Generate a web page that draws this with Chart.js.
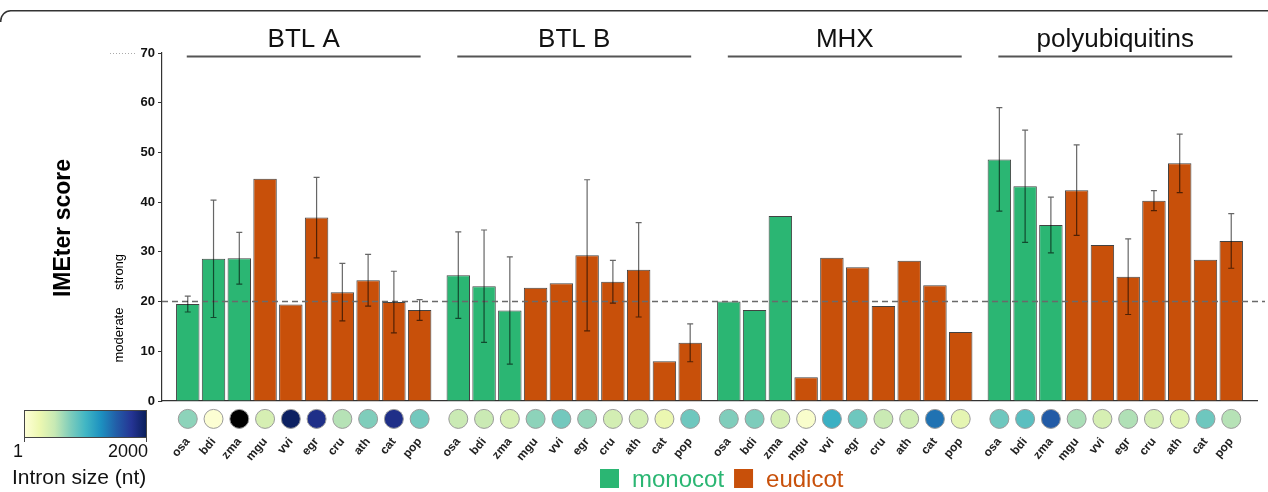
<!DOCTYPE html>
<html>
<head>
<meta charset="utf-8">
<script src="https://cdn.jsdelivr.net/npm/chart.js@4.4.1/dist/chart.umd.min.js"></script>
<style>
  html, body { margin: 0; padding: 0; background: #fff; }
  #wrap { width: 1268px; height: 492px; position: relative; }
</style>
</head>
<body>
<div id="wrap"><canvas id="chart" width="1268" height="492"></canvas></div>
<script>
// --- data ---
const genes = ['BTL A', 'BTL B', 'MHX', 'polyubiquitins'];
const species = ['osa', 'bdi', 'zma', 'mgu', 'vvi', 'egr', 'cru', 'ath', 'cat', 'pop'];
const clades = ['monocot', 'monocot', 'monocot', 'eudicot', 'eudicot', 'eudicot', 'eudicot', 'eudicot', 'eudicot', 'eudicot'];

const btlA = [19.5, 28.6, 28.7, 44.7, 19.4, 36.9, 21.9, 24.3, 19.9, 18.3];
const btlB = [25.3, 23.1, 18.2, 22.8, 23.7, 29.3, 24.0, 26.4, 8.0, 11.7];
const mhx = [20.0, 18.3, 37.2, 4.8, 28.8, 26.9, 19.1, 28.2, 23.3, 13.9];
const polyub = [48.6, 43.2, 35.4, 42.4, 31.4, 25.0, 40.3, 47.8, 28.4, 32.2];

const btlAErr = [1.6, 11.8, 5.2, null, null, 8.1, 5.8, 5.2, 6.2, 2.1];
const btlBErr = [8.7, 11.3, 10.8, null, null, 15.2, 4.3, 9.5, null, 3.8];
const mhxErr = [null, null, null, null, null, null, null, null, null, null];
const polyubErr = [10.4, 11.3, 5.6, 9.1, null, 7.6, 2.0, 5.9, null, 5.5];

// intron size (nt), estimated from the circle colours
const btlAIntron = [700, 40, 2600, 400, 1960, 1800, 560, 750, 1800, 800];
const btlBIntron = [480, 480, 400, 700, 800, 680, 420, 420, 260, 820];
const mhxIntron = [750, 760, 400, 80, 1040, 820, 480, 440, 1400, 300];
const polyubIntron = [820, 900, 1520, 600, 400, 580, 400, 340, 820, 560];

const yTicks = [0, 10, 20, 30, 40, 50, 60, 70];
const threshold = 20;
const intronRange = [1, 2000];

// --- styling ---
const FONT = '"Liberation Sans", Arial, Helvetica, sans-serif';
const cladeColors = { monocot: '#2bb673', eudicot: '#c8500a' };
const YLGNBU = ['#ffffd9', '#edf8b1', '#c7e9b4', '#7fcdbb', '#41b6c4', '#1d91c0', '#225ea8', '#253494', '#081d58'];
const GROUP_STEP = 10.5;
const CIRCLE_ROW = -3.6;

const scores = [btlA, btlB, mhx, polyub].flat();
const errors = [btlAErr, btlBErr, mhxErr, polyubErr].flat();
const introns = [btlAIntron, btlBIntron, mhxIntron, polyubIntron].flat();
const positions = genes.flatMap((g, gi) => species.map((s, si) => gi * GROUP_STEP + si));
const barColors = genes.flatMap(() => clades.map(c => cladeColors[c]));

function hexRgb(h) {
    return [1, 3, 5].map(i => parseInt(h.slice(i, i + 2), 16));
}

function intronColor(nt) {
    if (nt > intronRange[1]) return '#000000';
    const t = Math.max(0, nt) / intronRange[1] * (YLGNBU.length - 1);
    const i = Math.min(Math.floor(t), YLGNBU.length - 2);
    const f = t - i;
    const a = hexRgb(YLGNBU[i]);
    const b = hexRgb(YLGNBU[i + 1]);
    const c = a.map((v, k) => Math.round(v + (b[k] - v) * f));
    return `rgb(${c[0]},${c[1]},${c[2]})`;
}

const decorations = {
    id: 'decorations',
    afterDatasetsDraw(chart) {
        const { ctx, chartArea, scales: { x, y } } = chart;
        ctx.save();

        // threshold line
        ctx.strokeStyle = '#6a6a6a';
        ctx.lineWidth = 1.5;
        ctx.setLineDash([6, 4]);
        ctx.beginPath();
        ctx.moveTo(chartArea.left, y.getPixelForValue(threshold));
        ctx.lineTo(chart.width - 3, y.getPixelForValue(threshold));
        ctx.stroke();
        ctx.setLineDash([]);

        // error bars
        ctx.strokeStyle = 'rgba(0,0,0,0.6)';
        ctx.lineWidth = 1.2;
        errors.forEach((e, k) => {
            if (e == null) return;
            const px = x.getPixelForValue(positions[k]);
            const top = y.getPixelForValue(scores[k] + e);
            const bottom = y.getPixelForValue(scores[k] - e);
            ctx.beginPath();
            ctx.moveTo(px, top);
            ctx.lineTo(px, bottom);
            ctx.moveTo(px - 3, top);
            ctx.lineTo(px + 3, top);
            ctx.moveTo(px - 3, bottom);
            ctx.lineTo(px + 3, bottom);
            ctx.stroke();
        });

        // intron circles sit below the plot area, so the point elements are drawn here
        const whole = { left: 0, top: 0, right: chart.width, bottom: chart.height };
        chart.getDatasetMeta(1).data.forEach(pt => pt.draw(ctx, whole));
        ctx.restore();
    },
    afterDraw(chart) {
        const { ctx, scales: { x, y } } = chart;
        ctx.save();

        // frame corner at the top
        ctx.strokeStyle = '#333';
        ctx.lineWidth = 1.5;
        ctx.beginPath();
        ctx.moveTo(0.75, 22);
        ctx.arcTo(0.75, 10.75, 12, 10.75, 10);
        ctx.lineTo(chart.width, 10.75);
        ctx.stroke();

        // gene titles with underline
        genes.forEach((g, gi) => {
            const x0 = x.getPixelForValue(positions[gi * species.length]);
            const x1 = x.getPixelForValue(positions[gi * species.length + species.length - 1]);
            ctx.fillStyle = '#111';
            ctx.font = `26px ${FONT}`;
            ctx.textAlign = 'center';
            ctx.textBaseline = 'alphabetic';
            ctx.fillText(g, (x0 + x1) / 2, 47);
            ctx.strokeStyle = '#555';
            ctx.lineWidth = 2;
            ctx.beginPath();
            ctx.moveTo(x0 - 1, 56.5);
            ctx.lineTo(x1 + 1, 56.5);
            ctx.stroke();
        });

        // y title and threshold words
        ctx.fillStyle = '#000';
        ctx.textAlign = 'center';
        ctx.textBaseline = 'middle';
        ctx.save();
        ctx.translate(64, 228);
        ctx.rotate(-Math.PI / 2);
        ctx.font = `bold 23px ${FONT}`;
        ctx.fillText('IMEter score', 0, 0);
        ctx.restore();
        ctx.font = `13px ${FONT}`;
        ctx.save();
        ctx.translate(119, 335);
        ctx.rotate(-Math.PI / 2);
        ctx.fillText('moderate', 0, 0);
        ctx.restore();
        ctx.save();
        ctx.translate(119, 272);
        ctx.rotate(-Math.PI / 2);
        ctx.fillText('strong', 0, 0);
        ctx.restore();

        // faint dotted guide by the top tick
        ctx.strokeStyle = '#aaa';
        ctx.lineWidth = 1;
        ctx.setLineDash([1, 2]);
        ctx.beginPath();
        ctx.moveTo(110, y.getPixelForValue(yTicks[yTicks.length - 1]) + 0.5);
        ctx.lineTo(137, y.getPixelForValue(yTicks[yTicks.length - 1]) + 0.5);
        ctx.stroke();
        ctx.setLineDash([]);

        // intron size colour bar
        const cb = { left: 24, top: 410, width: 123, height: 28 };
        const grad = ctx.createLinearGradient(cb.left, 0, cb.left + cb.width, 0);
        YLGNBU.forEach((c, i) => grad.addColorStop(i / (YLGNBU.length - 1), c));
        ctx.fillStyle = grad;
        ctx.fillRect(cb.left, cb.top, cb.width, cb.height);
        ctx.strokeStyle = '#444';
        ctx.lineWidth = 1;
        ctx.strokeRect(cb.left + 0.5, cb.top + 0.5, cb.width - 1, cb.height - 1);
        ctx.beginPath();
        ctx.moveTo(cb.left + 0.5, cb.top + cb.height);
        ctx.lineTo(cb.left + 0.5, cb.top + cb.height + 4);
        ctx.moveTo(cb.left + cb.width - 0.5, cb.top + cb.height);
        ctx.lineTo(cb.left + cb.width - 0.5, cb.top + cb.height + 4);
        ctx.stroke();
        ctx.fillStyle = '#111';
        ctx.font = `18px ${FONT}`;
        ctx.textBaseline = 'alphabetic';
        ctx.textAlign = 'center';
        ctx.fillText(String(intronRange[0]), 18, 457);
        ctx.textAlign = 'right';
        ctx.fillText(String(intronRange[1]), 148, 457);
        ctx.textAlign = 'left';
        ctx.font = `21px ${FONT}`;
        ctx.fillText('Intron size (nt)', 12, 484);

        // clade legend
        ctx.font = `24px ${FONT}`;
        let lx = 600;
        ['monocot', 'eudicot'].forEach(c => {
            ctx.fillStyle = cladeColors[c];
            ctx.fillRect(lx, 469, 19, 19);
            ctx.fillText(c, lx + 32, 487);
            lx += 32 + ctx.measureText(c).width + 10;
        });

        ctx.restore();
    },
};

new Chart(document.getElementById('chart'), {
    type: 'bar',
    data: {
        datasets: [
            {
                label: 'IMEter score',
                data: positions.map((p, k) => ({ x: p, y: scores[k] })),
                backgroundColor: barColors,
                borderColor: 'rgba(45,45,45,0.9)',
                borderWidth: 1,
                categoryPercentage: 1,
                barPercentage: 0.91,
                order: 2,
            },
            {
                type: 'scatter',
                label: 'Intron size',
                data: positions.map(p => ({ x: p, y: CIRCLE_ROW })),
                pointRadius: 9.5,
                pointBackgroundColor: introns.map(intronColor),
                pointBorderColor: '#9a9a9a',
                pointBorderWidth: 1,
                clip: false,
                order: 1,
            },
        ],
    },
    options: {
        responsive: false,
        devicePixelRatio: 1,
        animation: false,
        layout: {
            padding: { top: 53, left: 0, right: 11, bottom: 0 },
        },
        scales: {
            x: {
                type: 'linear',
                offset: false,
                min: -1,
                max: positions[positions.length - 1] + 1,
                afterBuildTicks: (axis) => {
                    axis.ticks = positions.map(v => ({ value: v }));
                },
                afterFit: (axis) => {
                    axis.height = 91;
                    axis.paddingLeft = 0;
                    axis.paddingRight = 0;
                },
                ticks: {
                    autoSkip: false,
                    minRotation: 50,
                    maxRotation: 50,
                    padding: 34,
                    color: '#222',
                    font: { family: FONT, size: 12, weight: 'bold' },
                    callback: (value, index) => species[index % species.length],
                },
                grid: { display: false, drawTicks: false },
                border: { display: true, color: '#333', width: 1.2 },
            },
            y: {
                min: yTicks[0],
                max: yTicks[yTicks.length - 1],
                afterFit: (axis) => {
                    axis.width = 162;
                },
                ticks: {
                    stepSize: 10,
                    padding: 3,
                    color: '#111',
                    font: { family: FONT, size: 13, weight: 'bold' },
                },
                grid: { display: true, drawOnChartArea: false, drawTicks: true, tickLength: 4, color: '#333' },
                border: { display: true, color: '#333', width: 1.2 },
            },
        },
        plugins: {
            legend: { display: false },
            tooltip: { enabled: false },
        },
    },
    plugins: [decorations],
});
</script>
</body>
</html>
